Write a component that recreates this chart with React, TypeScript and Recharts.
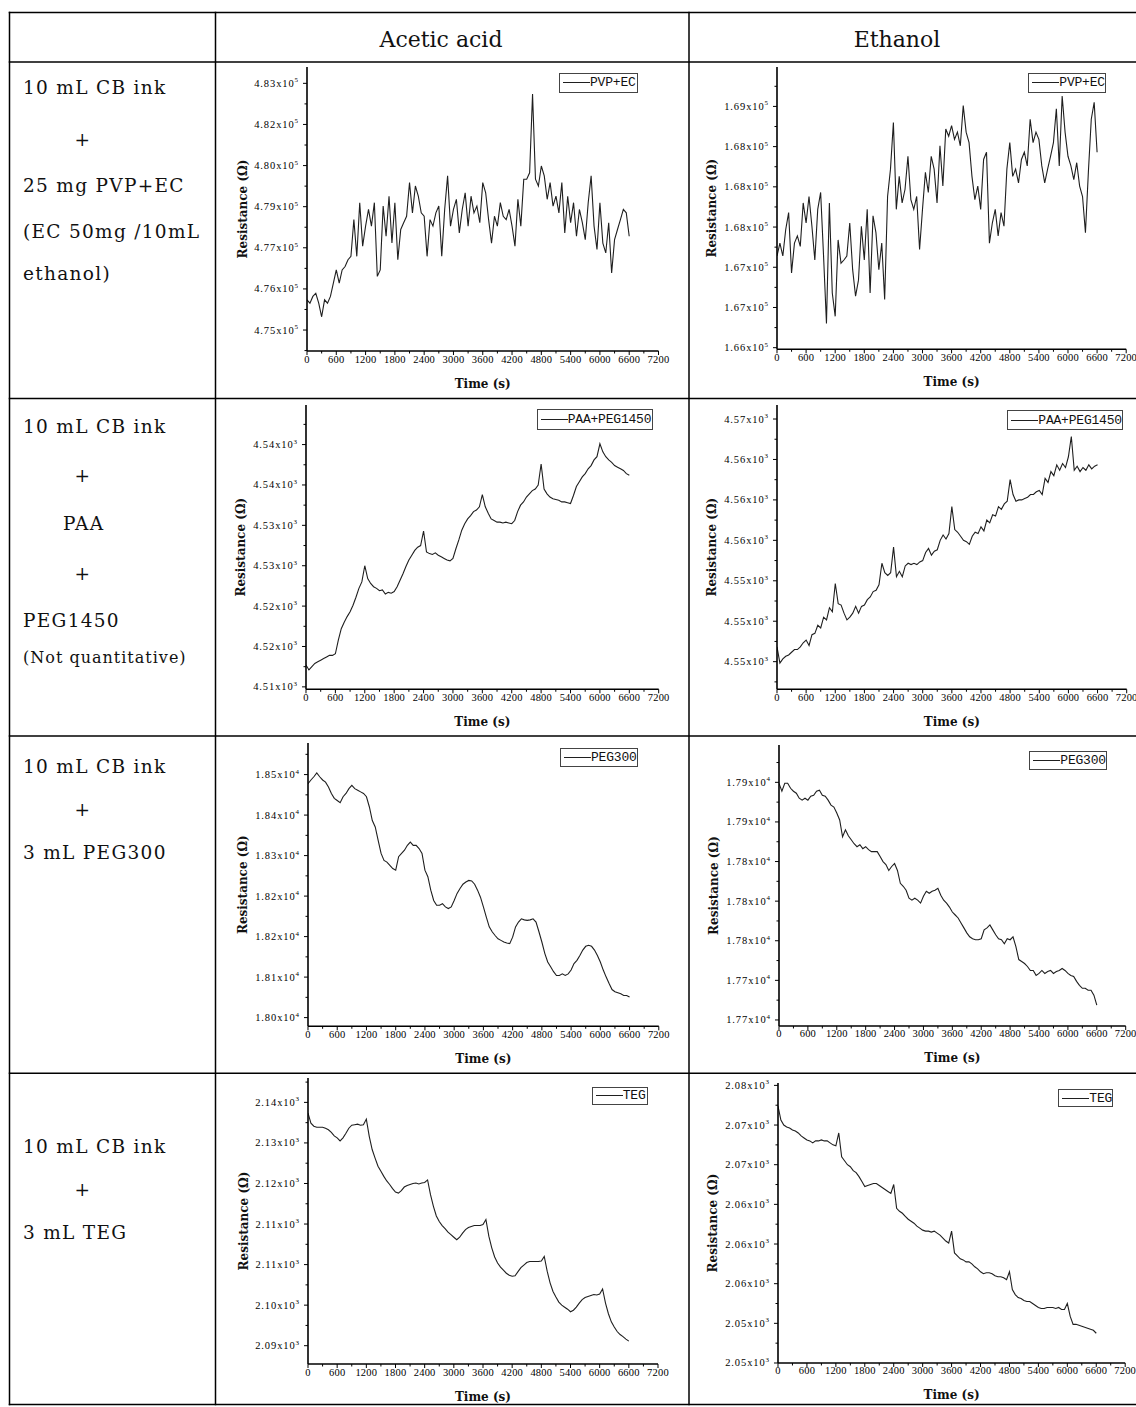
import React from 'react';
import { LineChart, Line, XAxis, YAxis, Legend } from 'recharts';

// sampling interval of the logger (s); one value per sample in each series
const SAMPLE_INTERVAL_S = 60;
const TIME_TICKS = [0, 600, 1200, 1800, 2400, 3000, 3600, 4200, 4800, 5400, 6000, 6600, 7200];

// resistance, in units of 10^exponent ohm, one row = 600 s
const ACETIC_PVP_EC = [
  4.7598, 4.7587, 4.7609, 4.7619, 4.7587, 4.7543, 4.7598, 4.7587, 4.7609, 4.7652,
  4.7695, 4.7652, 4.7695, 4.7706, 4.7728, 4.7739, 4.7858, 4.7739, 4.7913, 4.7772,
  4.7837, 4.7891, 4.7837, 4.7913, 4.7674, 4.7695, 4.7902, 4.7804, 4.7934, 4.7782,
  4.7913, 4.7728, 4.7826, 4.7848, 4.7869, 4.7978, 4.788, 4.7967, 4.7934, 4.788,
  4.7869, 4.7739, 4.7858, 4.7837, 4.788, 4.7902, 4.7739, 4.7891, 4.8, 4.7837,
  4.7891, 4.7924, 4.7815, 4.7891, 4.7945, 4.7837, 4.7934, 4.788, 4.7902, 4.7848,
  4.7978, 4.7945, 4.7858, 4.7782, 4.7869, 4.7837, 4.7913, 4.7869, 4.7858, 4.7891,
  4.7837, 4.7772, 4.7924, 4.7837, 4.7989, 4.7989, 4.801, 4.8265, 4.7989, 4.7967,
  4.8032, 4.8, 4.7924, 4.7978, 4.7902, 4.7934, 4.788, 4.7978, 4.7815, 4.7934,
  4.7848, 4.7913, 4.7804, 4.7891, 4.7848, 4.7793, 4.7913, 4.8, 4.7837, 4.7761,
  4.7913, 4.7782, 4.775, 4.7848, 4.7685, 4.7793, 4.7826, 4.7858, 4.7891, 4.788,
  4.7804,
];
const ETHANOL_PVP_EC = [
  1.6714, 1.673, 1.6714, 1.6747, 1.6768, 1.6693, 1.673, 1.6739, 1.6726, 1.678,
  1.6755, 1.6788, 1.6751, 1.6709, 1.6772, 1.6793, 1.6714, 1.663, 1.678, 1.6668,
  1.6639, 1.6734, 1.6705, 1.6709, 1.6714, 1.6755, 1.6697, 1.6664, 1.6684, 1.6751,
  1.6709, 1.6772, 1.6668, 1.6764, 1.6743, 1.6697, 1.673, 1.666, 1.6788, 1.6822,
  1.688, 1.6772, 1.6813, 1.678, 1.6797, 1.6838, 1.6784, 1.6772, 1.6788, 1.6722,
  1.6772, 1.6818, 1.6793, 1.6838, 1.6822, 1.678, 1.6851, 1.6801, 1.6872, 1.6863,
  1.6876, 1.6859, 1.6868, 1.6851, 1.6901, 1.6868, 1.6855, 1.6813, 1.6784, 1.6801,
  1.6772, 1.6834, 1.6843, 1.673, 1.6755, 1.6772, 1.6739, 1.6768, 1.6751, 1.6822,
  1.6855, 1.6813, 1.6822, 1.6805, 1.6834, 1.6843, 1.6826, 1.6884, 1.6855, 1.6868,
  1.6859, 1.6826, 1.6805, 1.6822, 1.6838, 1.6855, 1.6897, 1.6826, 1.6913, 1.6868,
  1.6838, 1.6826, 1.6809, 1.683, 1.6801, 1.6788, 1.6743, 1.6818, 1.6884, 1.6905,
  1.6843,
];
const ACETIC_PAA_PEG = [
  4.5127, 4.5121, 4.5125, 4.5129, 4.5131, 4.5133, 4.5135, 4.5137, 4.5139, 4.5139,
  4.5141, 4.5158, 4.5172, 4.518, 4.5187, 4.5193, 4.5201, 4.5211, 4.5222, 4.523,
  4.525, 4.5234, 4.5228, 4.5224, 4.5222, 4.5219, 4.522, 4.5215, 4.5217, 4.5216,
  4.5218, 4.5224, 4.5232, 4.524, 4.5249, 4.5257, 4.5263, 4.5269, 4.5273, 4.5275,
  4.5293, 4.5267, 4.5265, 4.5264, 4.5266, 4.5263, 4.5261, 4.5259, 4.5257, 4.5256,
  4.5259, 4.5271, 4.5282, 4.5294, 4.5302, 4.5308, 4.5312, 4.5317, 4.5319, 4.5323,
  4.5338, 4.5323, 4.5315, 4.5308, 4.5306, 4.5304, 4.5304, 4.5303, 4.5304, 4.5303,
  4.5302, 4.5306, 4.5317, 4.5325, 4.5329, 4.5335, 4.5339, 4.5343, 4.5345, 4.535,
  4.5376, 4.5345, 4.5339, 4.5335, 4.5333, 4.5332, 4.5331, 4.5329, 4.5329, 4.5328,
  4.5327, 4.5337, 4.5348, 4.5354, 4.536, 4.5364, 4.537, 4.5374, 4.5381, 4.5385,
  4.5401, 4.5391, 4.5385, 4.5381, 4.5378, 4.5374, 4.5372, 4.537, 4.5368, 4.5364,
  4.5362,
];
const ETHANOL_PAA_PEG = [
  4.5491, 4.5479, 4.5482, 4.5484, 4.5485, 4.5487, 4.5489, 4.5489, 4.5491, 4.5494,
  4.5496, 4.5492, 4.55, 4.5501, 4.5507, 4.5505, 4.5513, 4.5511, 4.552, 4.5517,
  4.5538, 4.5523, 4.5522, 4.5516, 4.5511, 4.5513, 4.5516, 4.5521, 4.5516, 4.5521,
  4.5522, 4.5526, 4.5528, 4.5532, 4.5533, 4.5537, 4.5553, 4.5546, 4.5544, 4.5546,
  4.5565, 4.5543, 4.5547, 4.5543, 4.5551, 4.5553, 4.5552, 4.5553, 4.5552, 4.5554,
  4.5555, 4.5561, 4.5564, 4.5559, 4.5562, 4.5563, 4.557, 4.5574, 4.5571, 4.5575,
  4.5595, 4.5578, 4.5576, 4.5573, 4.557, 4.5569, 4.5567, 4.5573, 4.5576, 4.5575,
  4.558, 4.5577, 4.5585, 4.5583, 4.5589, 4.5588, 4.5595, 4.5593, 4.5597, 4.5599,
  4.5615, 4.5604, 4.5599, 4.56, 4.56, 4.5601, 4.5602, 4.5604, 4.5604, 4.5606,
  4.5607, 4.5604, 4.5616, 4.5613, 4.5621, 4.5618, 4.5626, 4.5622, 4.5627, 4.5624,
  4.5632, 4.5647, 4.5622, 4.5625, 4.5621, 4.5624, 4.5622, 4.5626, 4.5623, 4.5625,
  4.5626,
];
const ACETIC_PEG300 = [
  1.8433, 1.844, 1.8446, 1.8453, 1.8446, 1.844, 1.8436, 1.8427, 1.8415, 1.8406,
  1.8402, 1.8398, 1.8409, 1.8415, 1.8424, 1.843, 1.8424, 1.8421, 1.8418, 1.8415,
  1.8409, 1.839, 1.8365, 1.8353, 1.8328, 1.8304, 1.8291, 1.8288, 1.8282, 1.8276,
  1.8273, 1.8298, 1.8304, 1.831, 1.8319, 1.8325, 1.8319, 1.8319, 1.8313, 1.8304,
  1.8273, 1.8261, 1.8236, 1.8217, 1.8208, 1.8208, 1.8211, 1.8205, 1.8202, 1.8205,
  1.8217, 1.823, 1.8239, 1.8247, 1.8251, 1.8254, 1.8253, 1.8247, 1.8236, 1.8223,
  1.8205, 1.8186, 1.8168, 1.8159, 1.8152, 1.8146, 1.8143, 1.814, 1.8138, 1.8137,
  1.8149, 1.8168, 1.8177, 1.8183, 1.8181, 1.818, 1.8181, 1.8183, 1.8177, 1.8159,
  1.814, 1.8119, 1.8103, 1.8094, 1.8085, 1.8078, 1.8078, 1.8081, 1.8078, 1.8081,
  1.8088, 1.81, 1.8106, 1.8115, 1.8125, 1.8132, 1.8134, 1.8132, 1.8125, 1.8115,
  1.8103, 1.8088, 1.8075, 1.8063, 1.8052, 1.8048, 1.8046, 1.8044, 1.8041, 1.8041,
  1.8038,
];
const ETHANOL_PEG300 = [
  1.7919, 1.7911, 1.7919, 1.7919, 1.7914, 1.7911, 1.7909, 1.7904, 1.7902, 1.7904,
  1.7902, 1.7906, 1.7907, 1.7911, 1.7912, 1.7907, 1.7906, 1.7902, 1.7897, 1.7895,
  1.7889, 1.7882, 1.7865, 1.7872, 1.7866, 1.7862, 1.7858, 1.7855, 1.7857, 1.7853,
  1.7855, 1.7852, 1.785, 1.785, 1.785, 1.7845, 1.784, 1.7837, 1.7831, 1.7835,
  1.7838, 1.7831, 1.7818, 1.7815, 1.7811, 1.7803, 1.7801, 1.7803, 1.7801, 1.7798,
  1.7805, 1.781, 1.7808, 1.781, 1.7811, 1.7813, 1.7806, 1.7801, 1.7798, 1.7794,
  1.7789, 1.7786, 1.7783, 1.7778, 1.7773, 1.7768, 1.7764, 1.7762, 1.7761, 1.7761,
  1.7762, 1.7771, 1.7773, 1.7776, 1.7771, 1.7766, 1.7762, 1.7761, 1.7757, 1.7762,
  1.7761, 1.7764, 1.7754, 1.7741, 1.7739, 1.7737, 1.7734, 1.773, 1.773, 1.7725,
  1.7727, 1.773, 1.7727, 1.7729, 1.773, 1.7727, 1.7729, 1.773, 1.7732, 1.773,
  1.7727, 1.7725, 1.7724, 1.7719, 1.7715, 1.7712, 1.7712, 1.771, 1.771, 1.7705,
  1.7695,
];
const ACETIC_TEG = [
  2.1359, 2.1339, 2.1333, 2.1331, 2.1331, 2.1331, 2.1329, 2.1326, 2.1321, 2.1314,
  2.131, 2.1304, 2.131, 2.1319, 2.1329, 2.1335, 2.1336, 2.1337, 2.1335, 2.1336,
  2.1347, 2.1313, 2.1287, 2.127, 2.1254, 2.1244, 2.1234, 2.1225, 2.1218, 2.121,
  2.1203, 2.1201, 2.1206, 2.1213, 2.1216, 2.1218, 2.122, 2.1221, 2.1219, 2.1221,
  2.1222, 2.1227, 2.1198, 2.1175, 2.1156, 2.1145, 2.1137, 2.1131, 2.1124, 2.1119,
  2.1114, 2.1109, 2.1114, 2.1122, 2.1129, 2.1133, 2.1135, 2.1137, 2.1137, 2.1137,
  2.1139, 2.1149, 2.1116, 2.1093, 2.1075, 2.1063, 2.1055, 2.1049, 2.1043, 2.1039,
  2.1037, 2.1038, 2.1046, 2.1054, 2.1059, 2.1064, 2.1066, 2.1066, 2.1066, 2.1066,
  2.1067, 2.1076, 2.1047, 2.1024, 2.1007, 2.0996, 2.0986, 2.098, 2.0976, 2.0972,
  2.0967, 2.097, 2.0976, 2.0984, 2.0991, 2.0995, 2.0997, 2.0999, 2.1001, 2.1,
  2.1002, 2.1012, 2.0984, 2.0963, 2.0947, 2.0937, 2.0928, 2.0922, 2.0918, 2.0913,
  2.0909,
];
const ETHANOL_TEG = [
  2.0739, 2.0725, 2.072, 2.0718, 2.0717, 2.0715, 2.0714, 2.0712, 2.0709, 2.0707,
  2.0705, 2.0704, 2.0702, 2.0704, 2.0704, 2.0705, 2.0704, 2.0704, 2.0702, 2.07,
  2.0699, 2.0712, 2.0688, 2.0684, 2.068, 2.0678, 2.0674, 2.0672, 2.0668, 2.0663,
  2.0658, 2.0659, 2.066, 2.0661, 2.0661, 2.0659, 2.0657, 2.0655, 2.0653, 2.0651,
  2.066, 2.0636, 2.0633, 2.0631, 2.0628, 2.0625, 2.0623, 2.0621, 2.0618, 2.0616,
  2.0614, 2.0613, 2.0613, 2.0612, 2.0613, 2.0611, 2.0609, 2.0606, 2.0603, 2.0601,
  2.0613, 2.0591, 2.0588, 2.0585, 2.0584, 2.0582, 2.0582, 2.058, 2.0577, 2.0575,
  2.0572, 2.057, 2.0571, 2.0571, 2.057, 2.0568, 2.0567, 2.0567, 2.0566, 2.0564,
  2.0572, 2.0554, 2.0549, 2.0546, 2.0545, 2.0543, 2.0542, 2.0542, 2.054, 2.0538,
  2.0536, 2.0535, 2.0535, 2.0536, 2.0536, 2.0536, 2.0535, 2.0536, 2.0534, 2.0534,
  2.054, 2.0527, 2.0519, 2.0519, 2.0518, 2.0517, 2.0516, 2.0515, 2.0514, 2.0513,
  2.051,
];

// y tick positions and the labels Origin printed for them
const PVP_EC_ACETIC_TICKS = [4.75, 4.76333, 4.77667, 4.79, 4.80333, 4.81667, 4.83];
const PVP_EC_ACETIC_LABELS = ['4.75', '4.76', '4.77', '4.79', '4.80', '4.82', '4.83'];
const PVP_EC_ETHANOL_TICKS = [1.66, 1.665, 1.67, 1.675, 1.68, 1.685, 1.69];
const PVP_EC_ETHANOL_LABELS = ['1.66', '1.67', '1.67', '1.68', '1.68', '1.68', '1.69'];
const PAA_ACETIC_TICKS = [4.51, 4.515, 4.52, 4.525, 4.53, 4.535, 4.54];
const PAA_ACETIC_LABELS = ['4.51', '4.52', '4.52', '4.53', '4.53', '4.54', '4.54'];
const PAA_ETHANOL_TICKS = [4.548, 4.551, 4.554, 4.557, 4.56, 4.563, 4.566];
const PAA_ETHANOL_LABELS = ['4.55', '4.55', '4.55', '4.56', '4.56', '4.56', '4.57'];
const PEG300_ACETIC_TICKS = [1.8, 1.8075, 1.815, 1.8225, 1.83, 1.8375, 1.845];
const PEG300_ACETIC_LABELS = ['1.80', '1.81', '1.82', '1.82', '1.83', '1.84', '1.85'];
const PEG300_ETHANOL_TICKS = [1.768, 1.772, 1.776, 1.78, 1.784, 1.788, 1.792];
const PEG300_ETHANOL_LABELS = ['1.77', '1.77', '1.78', '1.78', '1.78', '1.79', '1.79'];
const TEG_ACETIC_TICKS = [2.09, 2.098, 2.106, 2.114, 2.122, 2.13, 2.138];
const TEG_ACETIC_LABELS = ['2.09', '2.10', '2.11', '2.11', '2.12', '2.13', '2.14'];
const TEG_ETHANOL_TICKS = [2.048, 2.052, 2.056, 2.06, 2.064, 2.068, 2.072, 2.076];
const TEG_ETHANOL_LABELS = ['2.05', '2.05', '2.06', '2.06', '2.06', '2.07', '2.07', '2.08'];

const HEADERS = ['Acetic acid', 'Ethanol'];

const YW = 80;
const MT = 8;
const MR = 34;
const XH = 48;
const LINE_COLOR = '#1f1f1f';
const TICK_FONT = '"Liberation Serif", serif';
const TITLE_FONT = '"DejaVu Serif", serif';

const PANELS = [
  { name: 'PVP+EC', values: ACETIC_PVP_EC, ticks: PVP_EC_ACETIC_TICKS, labels: PVP_EC_ACETIC_LABELS, exp: '5',
    domain: [4.7432, 4.8353], plot: [307, 67, 658.5, 351], legend: [559, 72.5, 79, 20] },
  { name: 'PVP+EC', values: ETHANOL_PVP_EC, ticks: PVP_EC_ETHANOL_TICKS, labels: PVP_EC_ETHANOL_LABELS, exp: '5',
    domain: [1.6598, 1.6949], plot: [777.3, 67, 1126.5, 349.3], legend: [1028.3, 72.7, 78, 20] },
  { name: 'PAA+PEG1450', values: ACETIC_PAA_PEG, ticks: PAA_ACETIC_TICKS, labels: PAA_ACETIC_LABELS, exp: '3',
    domain: [4.5097, 4.5449], plot: [306, 405, 658.7, 689.3], legend: [536.7, 409.3, 116, 21] },
  { name: 'PAA+PEG1450', values: ETHANOL_PAA_PEG, ticks: PAA_ETHANOL_TICKS, labels: PAA_ETHANOL_LABELS, exp: '3',
    domain: [4.54595, 4.56704], plot: [776.7, 405, 1126.4, 689.3], legend: [1007.3, 410, 116, 20] },
  { name: 'PEG300', values: ACETIC_PEG300, ticks: PEG300_ACETIC_TICKS, labels: PEG300_ACETIC_LABELS, exp: '4',
    domain: [1.79839, 1.85085], plot: [307.7, 742.7, 658.5, 1026], legend: [560, 748.3, 78, 19] },
  { name: 'PEG300', values: ETHANOL_PEG300, ticks: PEG300_ETHANOL_TICKS, labels: PEG300_ETHANOL_LABELS, exp: '4',
    domain: [1.76739, 1.79577], plot: [779.3, 745, 1126, 1026], legend: [1029.3, 750.7, 78, 19.5] },
  { name: 'TEG', values: ACETIC_TEG, ticks: TEG_ACETIC_TICKS, labels: TEG_ACETIC_LABELS, exp: '3',
    domain: [2.08639, 2.14281], plot: [308.3, 1078.3, 658.3, 1364.3], legend: [591.7, 1086.7, 56, 18] },
  { name: 'TEG', values: ETHANOL_TEG, ticks: TEG_ETHANOL_TICKS, labels: TEG_ETHANOL_LABELS, exp: '3',
    domain: [2.048, 2.07624], plot: [778.3, 1083.3, 1125.5, 1363.3], legend: [1058.3, 1089.3, 55, 18] },
];

const CELL_TEXT = [
  { x: 23, y: 94, t: '10 mL CB ink' },
  { x: 83, y: 145.5, t: '+', mid: true },
  { x: 23, y: 191.5, t: '25 mg PVP+EC' },
  { x: 23, y: 238, t: '(EC 50mg /10mL' },
  { x: 23, y: 280, t: 'ethanol)' },
  { x: 23, y: 433, t: '10 mL CB ink' },
  { x: 83, y: 482, t: '+', mid: true },
  { x: 63, y: 530, t: 'PAA' },
  { x: 83, y: 580, t: '+', mid: true },
  { x: 23, y: 627, t: 'PEG1450' },
  { x: 23, y: 663, t: '(Not quantitative)', small: true },
  { x: 23, y: 773, t: '10 mL CB ink' },
  { x: 83, y: 815.5, t: '+', mid: true },
  { x: 23, y: 859, t: '3 mL PEG300' },
  { x: 23, y: 1153, t: '10 mL CB ink' },
  { x: 83, y: 1195.5, t: '+', mid: true },
  { x: 23, y: 1239, t: '3 mL TEG' },
];

function XTick(props: any) {
  const { x, y, payload } = props;
  const major = Math.round(payload.value) % 600 === 0;
  return (
    <g>
      <line x1={x} x2={x} y1={y} y2={y + (major ? 4 : 2.5)} stroke="#000" strokeWidth={1} />
      {major && (
        <text x={x} y={y + 11.5} textAnchor="middle" fontFamily={TICK_FONT} fontSize={10.5} letterSpacing={0.2} fill="#000">
          {payload.value}
        </text>
      )}
    </g>
  );
}

function YTick(props: any) {
  const { x, y, payload, majors, labels, exp } = props;
  const tol = (majors[1] - majors[0]) / 10;
  const idx = majors.findIndex((m: number) => Math.abs(m - payload.value) < tol);
  const major = idx >= 0;
  return (
    <g>
      <line x1={x - (major ? 4 : 2.5)} x2={x} y1={y} y2={y} stroke="#000" strokeWidth={1} />
      {major && (
        <text x={x - 8} y={y + 3.5} textAnchor="end" fontFamily={TICK_FONT} fontSize={10.5} letterSpacing={0.9} fill="#000">
          {labels[idx]}x10
          <tspan fontSize={7} dy={-4.5}>{exp}</tspan>
        </text>
      )}
    </g>
  );
}

function AxisTitle({ px, py, text, vertical }: any) {
  return (
    <text
      x={px}
      y={py}
      textAnchor="middle"
      transform={vertical ? `rotate(-90 ${px} ${py})` : undefined}
      fontFamily={TITLE_FONT}
      fontWeight="bold"
      fontSize={12}
      fill="#111"
    >
      {text}
    </text>
  );
}

function LegendBox({ payload, fallback, width, height }: any) {
  const label = payload && payload[0] ? payload[0].value : fallback;
  return (
    <div
      style={{
        width,
        height,
        boxSizing: 'border-box',
        border: '1px solid #444',
        background: '#fff',
        display: 'flex',
        alignItems: 'center',
      }}
    >
      <div style={{ width: 27, borderTop: `1px solid ${LINE_COLOR}`, marginLeft: 3 }} />
      <span style={{ fontFamily: '"Liberation Mono", monospace', fontSize: 13, lineHeight: 1, color: '#111', letterSpacing: -0.2 }}>
        {label}
      </span>
    </div>
  );
}

function Panel({ panel }: any) {
  const [x0, y0, x1, y1] = panel.plot;
  const plotW = x1 - x0;
  const plotH = y1 - y0;
  const left = x0 - YW;
  const top = y0 - MT;
  const data = panel.values.map((r: number, i: number) => ({ t: i * SAMPLE_INTERVAL_S, r }));

  const half = (panel.ticks[1] - panel.ticks[0]) / 2;
  const yMinor = [panel.ticks[0] - half, ...panel.ticks.map((v: number) => v + half)].filter(
    (v: number) => v > panel.domain[0] && v < panel.domain[1]
  );
  const yTicks = [...panel.ticks, ...yMinor].sort((a, b) => a - b);
  const xTicks = [...TIME_TICKS, ...TIME_TICKS.slice(0, -1).map((v) => v + 300)].sort((a, b) => a - b);
  const [lx, ly, lw, lh] = panel.legend;

  return (
    <div style={{ position: 'absolute', left, top }}>
      <LineChart
        width={plotW + YW + MR}
        height={plotH + MT + XH}
        data={data}
        margin={{ top: MT, right: MR, bottom: 0, left: 0 }}
      >
        <XAxis
          type="number"
          dataKey="t"
          domain={[0, 7200]}
          ticks={xTicks}
          interval={0}
          height={XH}
          tickSize={0}
          tickMargin={0}
          tickLine={false}
          axisLine={{ stroke: '#000', strokeWidth: 1.6 }}
          tick={(p: any) => <XTick {...p} />}
          label={<AxisTitle px={YW + plotW / 2} py={MT + plotH + 36.5} text="Time (s)" />}
          allowDataOverflow
        />
        <YAxis
          type="number"
          domain={panel.domain}
          ticks={yTicks}
          interval={0}
          width={YW}
          tickSize={0}
          tickMargin={0}
          tickLine={false}
          axisLine={{ stroke: '#000', strokeWidth: 1.6 }}
          tick={(p: any) => <YTick {...p} majors={panel.ticks} labels={panel.labels} exp={panel.exp} />}
          label={<AxisTitle px={YW - 60.5} py={MT + plotH / 2} text="Resistance (Ω)" vertical />}
          allowDataOverflow
        />
        <Legend
          layout="horizontal"
          verticalAlign="middle"
          align="center"
          wrapperStyle={{ left: lx - left, top: ly - top, width: lw, height: lh }}
          content={(p: any) => <LegendBox payload={p.payload} fallback={panel.name} width={lw} height={lh} />}
        />
        <Line
          type="linear"
          dataKey="r"
          name={panel.name}
          stroke={LINE_COLOR}
          strokeWidth={1.1}
          dot={false}
          activeDot={false}
          isAnimationActive={false}
        />
      </LineChart>
    </div>
  );
}

export default function App() {
  const hLines = [12.5, 62, 398.5, 736, 1073.3, 1404.5];
  const vLines = [9.5, 215.5, 689];
  return (
    <div style={{ position: 'absolute', left: 0, top: 0, width: 1136, height: 1407, overflow: 'hidden', background: '#fff' }}>
      <svg width={1136} height={1407} style={{ position: 'absolute', left: 0, top: 0 }}>
        {hLines.map((y) => (
          <line key={`h${y}`} x1={8.75} x2={1136} y1={y} y2={y} stroke="#000" strokeWidth={1.5} />
        ))}
        {vLines.map((x) => (
          <line key={`v${x}`} x1={x} x2={x} y1={11.75} y2={1405.25} stroke="#000" strokeWidth={1.5} />
        ))}
        <text x={441} y={46.5} textAnchor="middle" fontFamily={TITLE_FONT} fontSize={22} fill="#111">
          {HEADERS[0]}
        </text>
        <text x={897} y={46.5} textAnchor="middle" fontFamily={TITLE_FONT} fontSize={22} fill="#111">
          {HEADERS[1]}
        </text>
        {CELL_TEXT.map((c, i) => (
          <text
            key={i}
            x={c.x}
            y={c.y}
            textAnchor={c.mid ? 'middle' : 'start'}
            fontFamily={TITLE_FONT}
            fontSize={c.small ? 16 : 18.5}
            letterSpacing={c.small ? 1.0 : 1.3}
            fill="#111"
          >
            {c.t}
          </text>
        ))}
      </svg>
      {PANELS.map((p, i) => (
        <Panel key={i} panel={p} />
      ))}
    </div>
  );
}
